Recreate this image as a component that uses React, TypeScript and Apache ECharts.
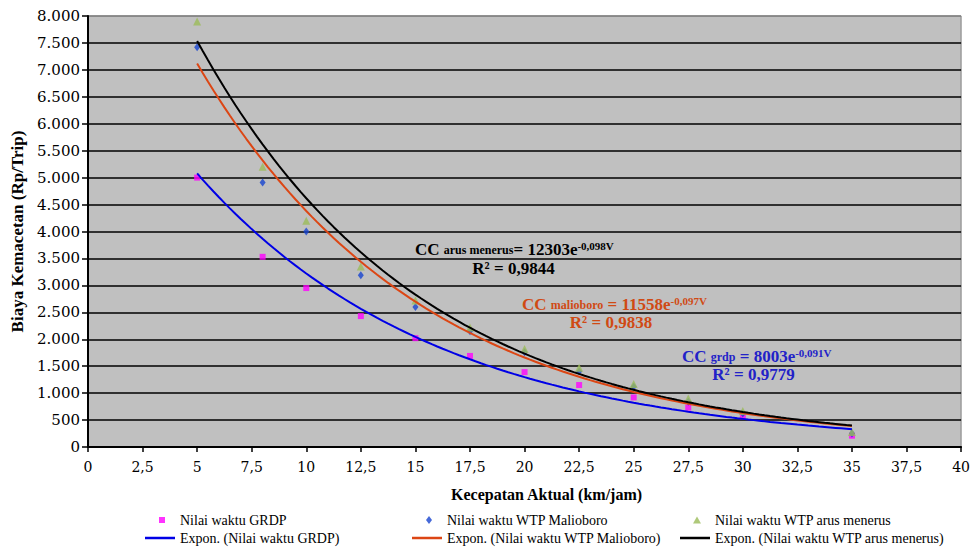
import React, { useEffect, useRef } from "react";
import * as echarts from "echarts";

// ---- data ----
const speeds = [5, 8, 10, 12.5, 15, 17.5, 20, 22.5, 25, 27.5, 30, 35];
const grdpValues = [5000, 3530, 2950, 2430, 2020, 1690, 1390, 1150, 920, 730, 570, 210];
const malioboroValues = [7420, 4910, 4000, 3190, 2600, 2150, 1760, 1400, 1120, 840, 620, 250];
const arusValues = [7900, 5200, 4200, 3350, 2720, 2220, 1820, 1470, 1170, 900, 670, 280];

// exponential trendlines shown on the chart: y = a * e^(b * V)
const trendNames = [
  "Expon. (Nilai waktu GRDP)",
  "Expon. (Nilai waktu WTP Malioboro)",
  "Expon. (Nilai waktu WTP arus menerus)",
];
const trendA = [8003, 11558, 12303];
const trendB = [-0.091, -0.097, -0.098];
const trendRange = [5, 35];

const scatterNames = [
  "Nilai waktu GRDP",
  "Nilai waktu WTP Malioboro",
  "Nilai waktu WTP arus menerus",
];

const eqSubs = ["grdp", "malioboro", "arus menerus"];
const eqCoefText = ["8003e", "11558e", "12303e"];
const eqExpText = ["-0,091V", "-0,097V", "-0,098V"];
const eqR2Text = ["R² = 0,9779", "R² = 0,9838", "R² = 0,9844"];

const SERIF = '"Liberation Serif", "Times New Roman", serif';
const NUMFONT = '"DejaVu Serif", serif';

const pointColors = ["#FF00FF", "#1744D0", "#9BBB59"];
const lineColors = ["#0000E6", "#DC4614", "#000000"];
const textColors = ["#2222C8", "#D04A14", "#000000"];

function trendPoints(i: number) {
  const pts: number[][] = [];
  for (let v = trendRange[0]; v <= trendRange[1] + 1e-9; v += 0.25) {
    pts.push([v, trendA[i] * Math.exp(trendB[i] * v)]);
  }
  return pts;
}

export default function App() {
  const ref = useRef<HTMLDivElement>(null);

  useEffect(() => {
    const chart = echarts.init(ref.current!, null, { renderer: "svg" });

    const symbols = ["rect", "diamond", "triangle"];
    const symbolSizes: any[] = [6, [6, 8], 8];

    const scatterSeries = scatterNames.map((name, i) => ({
      name,
      type: "scatter",
      z: 2,
      symbol: symbols[i],
      symbolSize: symbolSizes[i],
      itemStyle: { color: pointColors[i] },
      data: speeds.map((s, k) => [s, [grdpValues, malioboroValues, arusValues][i][k]]),
    }));

    const lineSeries = trendNames.map((name, i) => ({
      name,
      type: "line",
      z: 3,
      showSymbol: false,
      symbol: "none",
      smooth: false,
      lineStyle: { color: lineColors[i], width: 2 },
      itemStyle: { color: lineColors[i] },
      data: trendPoints(i),
    }));

    // legend layout: [name, icon, centerX/left, centerY, w, h, textX, centered]
    const legendLayout: any[] = [
      [scatterNames[0], "rect", 162, 520, 6, 6, 180, true],
      [scatterNames[1], "diamond", 429, 520, 6, 8, 447, true],
      [scatterNames[2], "triangle", 697, 520, 8, 7, 715, true],
      [trendNames[0], "rect", 145, 538, 30, 2.5, 180, false],
      [trendNames[1], "rect", 412, 538, 30, 2.5, 447, false],
      [trendNames[2], "rect", 680, 538, 30, 2.5, 715, false],
    ];
    const legends = legendLayout.map(([name, icon, x, cy, w, h, tx, centered]) => {
      const left = centered ? x - w / 2 : x;
      const pad = tx - (left + w + 5);
      return {
        data: [{ name, icon }],
        left,
        top: cy - 8,
        itemWidth: w,
        itemHeight: h,
        padding: 0,
        selectedMode: false,
        textStyle: {
          fontFamily: SERIF,
          fontSize: 14,
          color: "#000",
          lineHeight: 16,
          padding: [0, 0, 0, pad],
        },
      };
    });

    const eqPos = [
      [682, 356.5, 753.5, 374],
      [522, 304.5, 611, 322],
      [415, 249.5, 513.5, 268],
    ];
    const graphics: any[] = [];
    eqSubs.forEach((sub, i) => {
      const col = textColors[i];
      const [x, y, rx, ry] = eqPos[i];
      const mid = i === 2 ? "" : " ";
      graphics.push({
        type: "text",
        x,
        y,
        z: 10,
        style: {
          text: `{a|CC }{b|${sub}}{a|${mid}= ${eqCoefText[i]}}{c|${eqExpText[i]}}`,
          verticalAlign: "middle",
          align: "left",
          fill: col,
          rich: {
            a: { fontFamily: SERIF, fontSize: 17, fontWeight: "bold", lineHeight: 18, fill: col, color: col },
            b: {
              fontFamily: SERIF,
              fontSize: 12,
              fontWeight: "bold",
              lineHeight: 12,
              fill: col,
              color: col,
            },
            c: {
              fontFamily: SERIF,
              fontSize: 11,
              fontWeight: "bold",
              lineHeight: 14,
              verticalAlign: "top",
              fill: col,
              color: col,
            },
          },
        },
      });
      graphics.push({
        type: "text",
        x: rx,
        y: ry,
        z: 10,
        style: {
          text: eqR2Text[i],
          font: `bold 17px ${SERIF}`,
          fill: col,
          align: "center",
          verticalAlign: "middle",
        },
      });
    });

    const splitColors: string[] = [];
    for (let k = 0; k < 16; k++) splitColors.push("#000");
    splitColors.push("#808080");

    chart.setOption({
      animation: false,
      backgroundColor: "#fff",
      grid: {
        left: 88,
        right: 10,
        top: 16,
        bottom: 101,
        show: true,
        backgroundColor: "#C0C0C0",
        borderColor: "#808080",
        borderWidth: 1,
      },
      legend: legends,
      xAxis: {
        type: "value",
        min: 0,
        max: 40,
        interval: 2.5,
        name: "Kecepatan Aktual (km/jam)",
        nameLocation: "middle",
        nameGap: 39,
        nameTextStyle: {
          fontFamily: SERIF,
          fontSize: 16,
          fontWeight: "bold",
          color: "#000",
          padding: [0, 0, 0, 44],
        },
        axisLine: { show: true, lineStyle: { color: "#000", width: 2 } },
        axisTick: { show: true, inside: false, length: 5, lineStyle: { color: "#000", width: 1.5 } },
        axisLabel: {
          margin: 13,
          fontFamily: NUMFONT,
          fontSize: 14,
          color: "#000",
          formatter: (v: number) => String(v).replace(".", ","),
        },
        splitLine: { show: false },
      },
      yAxis: {
        type: "value",
        min: 0,
        max: 8000,
        interval: 500,
        name: "Biaya Kemacetan (Rp/Trip)",
        nameLocation: "middle",
        nameGap: 60,
        nameRotate: 90,
        nameTextStyle: {
          fontFamily: SERIF,
          fontSize: 17,
          fontWeight: "bold",
          color: "#000",
        },
        axisLine: { show: true, lineStyle: { color: "#000", width: 2 } },
        axisTick: { show: true, inside: false, length: 6, lineStyle: { color: "#000", width: 1.5 } },
        axisLabel: {
          margin: 8,
          fontFamily: NUMFONT,
          fontSize: 15,
          color: "#000",
          formatter: (v: number) =>
            v >= 1000 ? Math.floor(v / 1000) + "." + String(v % 1000).padStart(3, "0") : String(v),
        },
        splitLine: { show: true, lineStyle: { color: splitColors, width: 1.5 } },
      },
      graphic: graphics,
      series: [...scatterSeries, ...lineSeries],
    });

    return () => chart.dispose();
  }, []);

  return (
    <div
      ref={ref}
      style={{ position: "fixed", left: 0, top: 0, width: 973, height: 548 }}
    />
  );
}
